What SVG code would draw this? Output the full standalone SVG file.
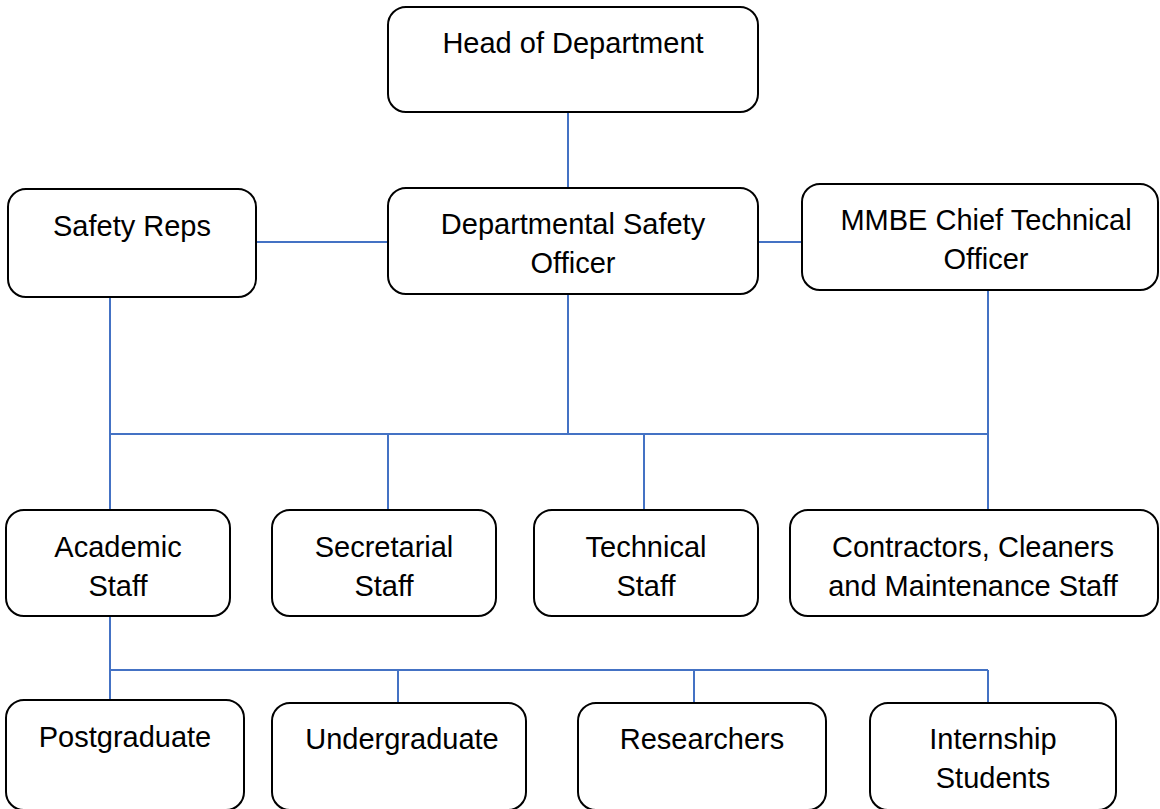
<svg xmlns="http://www.w3.org/2000/svg" width="1160" height="809" viewBox="0 0 1160 809">
<style>
.box{fill:#fff;stroke:#000;stroke-width:2}
.lbl{font-family:"Liberation Sans",Arial,sans-serif;font-size:29px;fill:#000;text-anchor:middle}
.conn{stroke:#4472C4;stroke-width:2;fill:none}
</style>
<rect width="1160" height="809" fill="#fff"/>
<g id="connectors">
<path class="conn" d="M568 112V188"/>
<path class="conn" d="M256 242H388"/>
<path class="conn" d="M758 242H802"/>
<path class="conn" d="M110 297V510"/>
<path class="conn" d="M568 294V434"/>
<path class="conn" d="M988 290V510"/>
<path class="conn" d="M110 434H988"/>
<path class="conn" d="M388 434V510"/>
<path class="conn" d="M644 434V510"/>
<path class="conn" d="M110 616V700"/>
<path class="conn" d="M110 670H988"/>
<path class="conn" d="M398 670V703"/>
<path class="conn" d="M694 670V703"/>
<path class="conn" d="M988 670V703"/>
</g>
<g id="head"><rect class="box" x="388" y="7" width="370" height="105" rx="18"/><text class="lbl" x="573" y="53">Head of Department</text></g>
<g id="dso"><rect class="box" x="388" y="188" width="370" height="106" rx="18"/><text class="lbl" x="573" y="234">Departmental Safety</text><text class="lbl" x="573" y="273">Officer</text></g>
<g id="safety-reps"><rect class="box" x="8" y="189" width="248" height="108" rx="18"/><text class="lbl" x="132" y="236">Safety Reps</text></g>
<g id="mmbe"><rect class="box" x="802" y="184" width="356" height="106" rx="18"/><text class="lbl" x="986" y="230">MMBE Chief Technical</text><text class="lbl" x="986" y="269">Officer</text></g>
<g id="academic"><rect class="box" x="6" y="510" width="224" height="106" rx="18"/><text class="lbl" x="118" y="557">Academic</text><text class="lbl" x="118" y="596">Staff</text></g>
<g id="secretarial"><rect class="box" x="272" y="510" width="224" height="106" rx="18"/><text class="lbl" x="384" y="557">Secretarial</text><text class="lbl" x="384" y="596">Staff</text></g>
<g id="technical"><rect class="box" x="534" y="510" width="224" height="106" rx="18"/><text class="lbl" x="646" y="557">Technical</text><text class="lbl" x="646" y="596">Staff</text></g>
<g id="contractors"><rect class="box" x="790" y="510" width="368" height="106" rx="18"/><text class="lbl" x="973" y="557">Contractors, Cleaners</text><text class="lbl" x="973" y="596">and Maintenance Staff</text></g>
<g id="postgraduate"><rect class="box" x="6" y="700" width="238" height="110" rx="18"/><text class="lbl" x="125" y="747">Postgraduate</text></g>
<g id="undergraduate"><rect class="box" x="272" y="703" width="254" height="107" rx="18"/><text class="lbl" x="402" y="749">Undergraduate</text></g>
<g id="researchers"><rect class="box" x="578" y="703" width="248" height="107" rx="18"/><text class="lbl" x="702" y="749">Researchers</text></g>
<g id="internship"><rect class="box" x="870" y="703" width="246" height="107" rx="18"/><text class="lbl" x="993" y="749">Internship</text><text class="lbl" x="993" y="788">Students</text></g>
</svg>
